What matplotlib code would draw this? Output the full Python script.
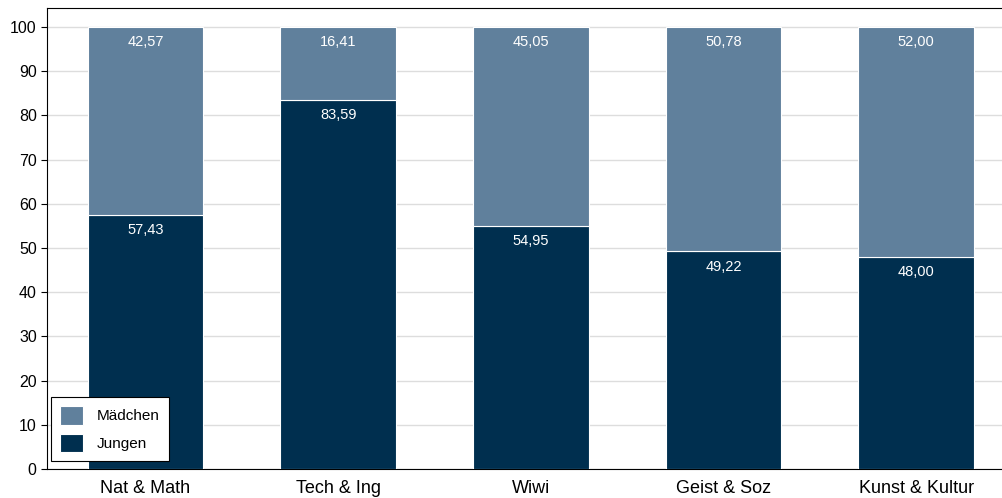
import numpy as np
import matplotlib.pyplot as plt

plt.rcParams['font.family'] = ['Liberation Sans', 'DejaVu Sans']

categories = ['Nat & Math', 'Tech & Ing', 'Wiwi', 'Geist & Soz', 'Kunst & Kultur']
jungen = [57.43, 83.59, 54.95, 49.22, 48.00]
maedchen = [42.57, 16.41, 45.05, 50.78, 52.00]

c_dark = '#002f4f'
c_light = '#60809c'

fig = plt.figure(figsize=(10.03, 4.98), dpi=100)
ax = fig.add_axes([0.047, 0.058, 0.953, 0.926])

x = np.arange(len(categories))
b1 = ax.bar(x, jungen, width=0.6, color=c_dark, edgecolor='white', linewidth=0.8, label='Jungen', zorder=3)
b2 = ax.bar(x, maedchen, width=0.6, bottom=jungen, color=c_light, edgecolor='white', linewidth=0.8,
            label='Mädchen', zorder=3)

def fmt(v):
    return f'{v:.2f}'.replace('.', ',')

# value labels sit just inside the top of each segment
for xi, j, m in zip(x, jungen, maedchen):
    ax.text(xi, j - 3.4, fmt(j), ha='center', va='center', color='white', fontsize=10.5, zorder=4)
    ax.text(xi, j + m - 3.4, fmt(m), ha='center', va='center', color='white', fontsize=10.5, zorder=4)

ax.set_xlim(-0.51, 4.45)
ax.set_ylim(0, 104.3)
ax.set_yticks(range(0, 101, 10))
ax.set_xticks(x)
ax.set_xticklabels(categories, fontsize=13)
ax.tick_params(axis='y', labelsize=11.5, length=4)
ax.tick_params(axis='x', length=0, pad=8)
ax.grid(axis='y', color='#dddddd', linewidth=1, zorder=0)
ax.spines['right'].set_visible(False)

handles = [b2, b1]
leg = ax.legend(handles, ['Mädchen', 'Jungen'], loc='lower left', bbox_to_anchor=(-0.004, 0.0),
                fancybox=False, edgecolor='black', framealpha=1, fontsize=11,
                handlelength=1.5, handleheight=1.5, borderpad=0.6, labelspacing=0.6,
                handletextpad=0.9)
leg.get_frame().set_linewidth(0.8)

fig.savefig('out.png', dpi=100)
